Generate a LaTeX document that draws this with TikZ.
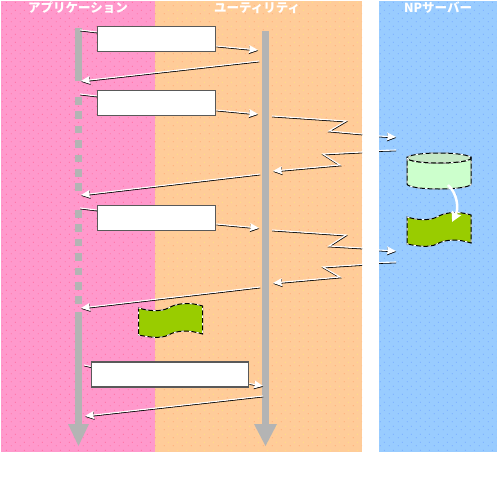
\documentclass[tikz,border=0pt]{standalone}
\usepackage{fontspec}
\newfontfamily\jpfont{Noto Sans CJK JP}
\usetikzlibrary{patterns}
\usetikzlibrary{positioning}
\usetikzlibrary{arrows.meta}

% two staggered dot screens for the lanes
\pgfdeclarepatternformonly{lanedotsa}{\pgfqpoint{0pt}{0pt}}{\pgfqpoint{9pt}{8pt}}{\pgfqpoint{9pt}{8pt}}{
  \pgfpathrectangle{\pgfqpoint{2pt}{2pt}}{\pgfqpoint{1pt}{1pt}}\pgfusepath{fill}}
\pgfdeclarepatternformonly{lanedotsb}{\pgfqpoint{0pt}{0pt}}{\pgfqpoint{9pt}{8pt}}{\pgfqpoint{9pt}{8pt}}{
  \pgfpathrectangle{\pgfqpoint{6.5pt}{6pt}}{\pgfqpoint{1pt}{1pt}}\pgfusepath{fill}}

\definecolor{lanepink}{HTML}{FF99CC}
\definecolor{pinkdot}{HTML}{FF6699}
\definecolor{laneorange}{HTML}{FFCC99}
\definecolor{orangedot}{HTML}{FF9966}
\definecolor{yellowdot}{HTML}{FFE680}
\definecolor{laneblue}{HTML}{99CCFF}
\definecolor{bluedot}{HTML}{6699FF}
\definecolor{lifegray}{HTML}{B4B4B4}
\definecolor{dbgreen}{HTML}{CCFFCC}
\definecolor{docgreen}{HTML}{99CC00}

\tikzset{
  lanetitle/.style={text=white,inner sep=0pt,font=\jpfont\bfseries\fontsize{12.5}{14}\selectfont},
  msgbox/.style={draw=black!65,fill=white,line width=1.6pt,inner sep=0pt},
  msgline/.style={draw=white,line width=1.1pt,
    -{Stealth[length=9pt,width=8pt,inset=1pt,fill=white]},
    preaction={draw=black,line width=1.1pt,transform canvas={shift={(0.2pt,-0.8pt)}}}},
  msgplain/.style={draw=white,line width=1.1pt,
    preaction={draw=black,line width=1.1pt,transform canvas={shift={(0.2pt,-0.8pt)}}}},
  lifeline/.style={draw=lifegray,line width=7.5pt},
  lifehead/.style={fill=lifegray},
  dashedge/.style={draw=black,line width=1pt,
    postaction={draw=white,line width=1pt,dash pattern=on 2.5pt off 5pt}},
}

% wave-edged document with its top left corner at (#1,#2)
\newcommand{\docwave}[2]{
  \begin{scope}[shift={(#1,#2)}]
    \path[fill=docgreen,dashedge] (0,0) .. controls (10,3) and (22,4) .. (30,0)
      .. controls (38,-5) and (52,-6) .. (64,-2) -- (64,26)
      .. controls (52,22) and (38,22) .. (30,27)
      .. controls (22,31) and (10,29) .. (0,27) -- cycle;
  \end{scope}
}

\begin{document}
\begin{tikzpicture}[x=1pt,y=-1pt]
  \useasboundingbox (0,0) rectangle (497,479);

  % lanes
  \fill[lanepink] (1,1) rectangle (155,452);
  \fill[laneorange] (155,1) rectangle (362,452);
  \fill[laneblue] (379,1) rectangle (497,452);
  \fill[pattern=lanedotsa,pattern color=pinkdot] (1,1) rectangle (155,452);
  \fill[pattern=lanedotsb,pattern color=pinkdot] (1,1) rectangle (155,452);
  \fill[pattern=lanedotsa,pattern color=orangedot] (155,1) rectangle (362,452);
  \fill[pattern=lanedotsb,pattern color=yellowdot] (155,1) rectangle (362,452);
  \fill[pattern=lanedotsa,pattern color=bluedot] (379,1) rectangle (497,452);
  \fill[pattern=lanedotsb,pattern color=bluedot!70!laneblue] (379,1) rectangle (497,452);
  \draw[white,line width=1pt,dash pattern=on 2pt off 2pt] (0,0.5) -- (362,0.5);
  \draw[white,line width=1pt,dash pattern=on 2pt off 2pt] (379,0.5) -- (497,0.5);

  \node[lanetitle] (titleapp) at (78,8) {アプリケーション};
  \node[lanetitle] (titleutil) at (257,8) {ユーティリティ};
  \node[lanetitle] (titlenp) at (438,8) {NPサーバー};

  % life lines
  \draw[lifeline] (78.5,28) -- (78.5,81);
  \draw[lifeline,dash pattern=on 7.5pt off 6.9pt] (78.5,97) -- (78.5,192);
  \draw[lifeline,dash pattern=on 7.5pt off 6.9pt] (78.5,210) -- (78.5,304);
  \draw[lifeline] (78.5,312) -- (78.5,426);
  \fill[lifehead] (68,424) -- (89,424) -- (78.5,446) -- cycle;
  \draw[lifeline] (265.5,31) -- (265.5,426);
  \fill[lifehead] (254,424) -- (277,424) -- (265.5,446) -- cycle;

  % call boxes
  \node[msgbox,minimum width=118pt,minimum height=25pt] (callone) at (156.5,39) {};
  \node[msgbox,minimum width=118pt,minimum height=25pt] (calltwo) at (156.5,103) {};
  \node[msgbox,minimum width=118pt,minimum height=25pt] (callthree) at (156.5,218) {};
  \node[msgbox,minimum width=157pt,minimum height=25pt] (callfour) at (170,374.5) {};

  % life line ends of the messages
  \coordinate (appa) at (80,30);
  \coordinate (appb) at (81,81);
  \coordinate (appc) at (80,94);
  \coordinate (appd) at (81,195);
  \coordinate (appe) at (80,208);
  \coordinate (appf) at (81,308);
  \coordinate (appg) at (84,365);
  \coordinate (apph) at (85,416);
  \coordinate (utila) at (258,50);
  \coordinate (utilb) at (259,61);
  \coordinate (utilc) at (258,114);
  \coordinate (utild) at (260,174);
  \coordinate (utile) at (259,228);
  \coordinate (utilf) at (260,287);
  \coordinate (utilg) at (263,386);
  \coordinate (utilh) at (263,396);

  \draw[msgplain] (appa) -- ([yshift=7pt]callone.west);
  \draw[msgline] ([yshift=-7pt]callone.east) -- (utila);
  \draw[msgline] (utilb) -- (appb);
  \draw[msgplain] (appc) -- ([yshift=7pt]calltwo.west);
  \draw[msgline] ([yshift=-7pt]calltwo.east) -- (utilc);
  \draw[msgline] (utild) -- (appd);
  \draw[msgplain] (appe) -- ([yshift=8pt]callthree.west);
  \draw[msgline] ([yshift=-6pt]callthree.east) -- (utile);
  \draw[msgline] (utilf) -- (appf);
  \draw[msgplain] (appg) -- ([yshift=8pt]callfour.west);
  \draw[msgline] ([yshift=-9pt]callfour.east) -- (utilg);
  \draw[msgline] (utilh) -- (apph);

  % messages over the network, broken where they leave the lanes
  \coordinate (netaa) at (272,116);
  \coordinate (netab) at (346,121);
  \coordinate (netac) at (329,131);
  \coordinate (netad) at (362,134);
  \coordinate (netae) at (379,136);
  \coordinate (netaf) at (396,137);
  \coordinate (netag) at (396,150);
  \coordinate (netah) at (379,150.5);
  \coordinate (netai) at (362,152);
  \coordinate (netaj) at (323,154);
  \coordinate (netak) at (340,165);
  \coordinate (netal) at (273,171);
  \draw[msgplain] (netaa) -- (netab) -- (netac) -- (netad);
  \draw[msgline] (netae) -- (netaf);
  \draw[msgplain] (netag) -- (netah);
  \draw[msgline] (netai) -- (netaj) -- (netak) -- (netal);

  \coordinate (netba) at (272,230);
  \coordinate (netbb) at (346,235);
  \coordinate (netbc) at (329,246);
  \coordinate (netbd) at (362,248);
  \coordinate (netbe) at (379,250);
  \coordinate (netbf) at (396,251);
  \coordinate (netbg) at (396,262);
  \coordinate (netbh) at (379,262.5);
  \coordinate (netbi) at (362,264.5);
  \coordinate (netbj) at (323,267);
  \coordinate (netbk) at (340,277);
  \coordinate (netbl) at (273,283);
  \draw[msgplain] (netba) -- (netbb) -- (netbc) -- (netbd);
  \draw[msgline] (netbe) -- (netbf);
  \draw[msgplain] (netbg) -- (netbh);
  \draw[msgline] (netbi) -- (netbj) -- (netbk) -- (netbl);

  % database
  \path[fill=dbgreen,dashedge] (407,158) -- (407,184)
    arc[start angle=180,end angle=360,x radius=32,y radius=-5] -- (471,158)
    arc[start angle=360,end angle=180,x radius=32,y radius=-5] -- cycle;
  \fill[dbgreen!70!lifegray] (407,158) arc[start angle=180,end angle=360,x radius=32,y radius=5]
    arc[start angle=0,end angle=180,x radius=32,y radius=5];
  \path[dashedge] (407,158) arc[start angle=180,end angle=-180,x radius=32,y radius=5];

  % documents
  \docwave{407}{217}
  \docwave{138.5}{308}

  % database to document
  \coordinate (dbout) at (448,185);
  \coordinate (docin) at (452,222);
  \draw[draw=white,line width=2.5pt,-{Stealth[length=10pt,width=10pt,inset=1pt,fill=white]}]
    (dbout) .. controls (457,193) and (459,208) .. (docin);
\end{tikzpicture}
\end{document}
